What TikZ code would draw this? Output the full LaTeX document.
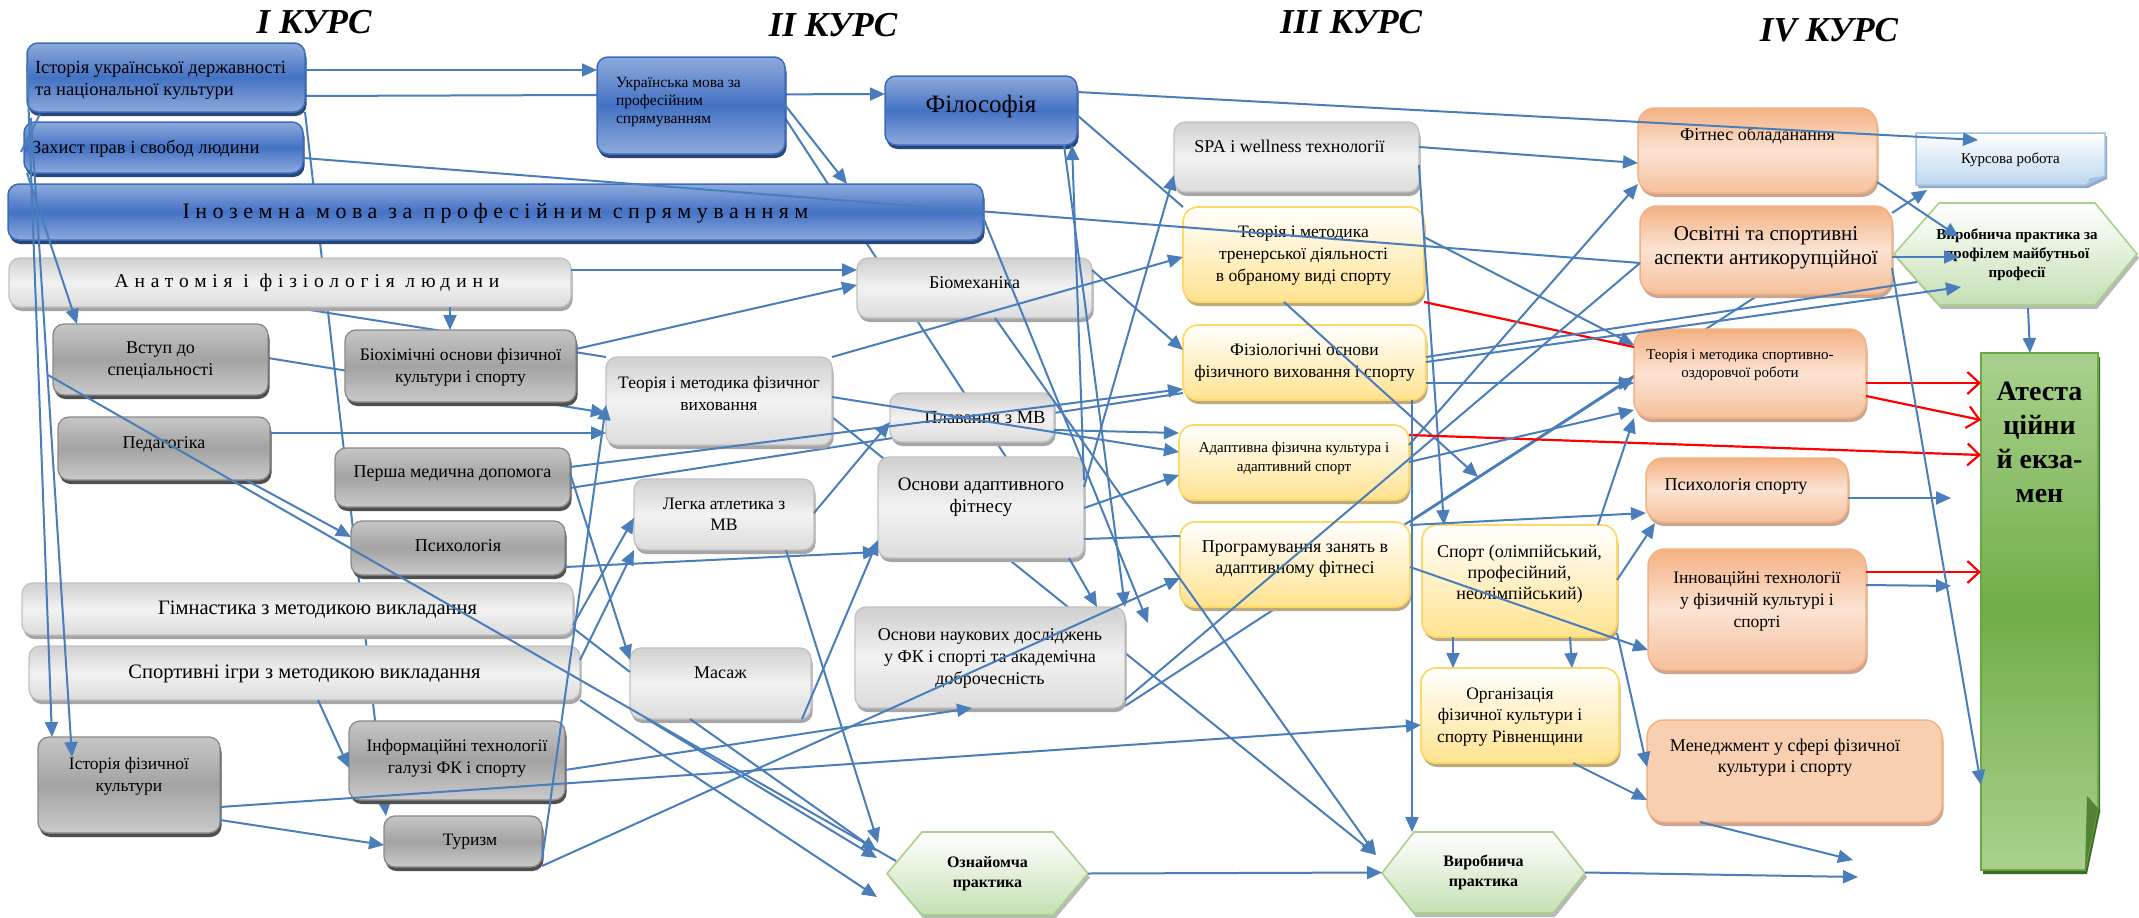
\documentclass[tikz,border=0pt]{standalone}
\usepackage{fontspec}
\setmainfont{Liberation Serif}
\newfontfamily\spacedfont[LetterSpace=25]{Liberation Serif}
\newfontfamily\widefont[LetterSpace=30]{Liberation Serif}
\usepackage{array}
\usetikzlibrary{arrows.meta,shadows}
\newcolumntype{L}[1]{>{\raggedright\arraybackslash}p{#1}}
\newcommand\fsz[2]{\fontsize{#1}{#2}\selectfont}
\newcommand\boxtext[3][c]{\raisebox{\dimexpr #2-0.3em\relax}[0pt][0pt]{\begin{tabular}{@{}#1@{}}#3\end{tabular}}}
\definecolor{blueL}{HTML}{8EAADB}\definecolor{blueM}{HTML}{4472C4}\definecolor{blueB}{HTML}{3A6BC0}\definecolor{blueS}{HTML}{2A4677}
\definecolor{dgL}{HTML}{C6C6C6}\definecolor{dgM}{HTML}{A3A3A3}\definecolor{dgL2}{HTML}{CACACA}\definecolor{dgB}{HTML}{8A8A8A}\definecolor{dgS}{HTML}{4F4F4F}
\definecolor{lgL}{HTML}{D0D0D0}\definecolor{lgM}{HTML}{F2F2F2}\definecolor{lgL2}{HTML}{DCDCDC}\definecolor{lgB}{HTML}{C2C2C2}\definecolor{lgS}{HTML}{A6A6A6}
\definecolor{yF}{HTML}{FFE38F}\definecolor{yB}{HTML}{FFD966}\definecolor{yS}{HTML}{BCAA82}
\definecolor{oD}{HTML}{F4B183}\definecolor{oL}{HTML}{FBE3D3}\definecolor{oD2}{HTML}{F6C09C}\definecolor{oS}{HTML}{C9A592}
\definecolor{mF}{HTML}{F8CFB0}
\definecolor{kB}{HTML}{9DC3E6}\definecolor{kF}{HTML}{BDD7EE}\definecolor{kS}{HTML}{95A9C0}
\definecolor{hB}{HTML}{A9D18E}\definecolor{hF}{HTML}{C5E0B4}
\definecolor{gL}{HTML}{A9D18E}\definecolor{gM}{HTML}{70AD47}\definecolor{gB}{HTML}{6AA843}\definecolor{gS}{HTML}{3D6B26}\definecolor{gFold}{HTML}{548235}
\definecolor{lnc}{HTML}{4A7EBB}
\pgfdeclarelayer{bg}
\pgfsetlayers{bg,main}
\tikzset{
 nb/.style={rounded corners=11pt, inner sep=0pt, outer sep=0pt, text=black},
 bluebx/.style={nb, draw=blueB, line width=1.5pt, top color=blueL, bottom color=blueL, middle color=blueM, drop shadow={shadow xshift=1.5pt, shadow yshift=-4pt, fill=blueS, opacity=1}},
 dgraybx/.style={nb, draw=dgB, line width=1.3pt, top color=dgL, bottom color=dgL2, middle color=dgM, drop shadow={shadow xshift=1.5pt, shadow yshift=-4pt, fill=dgS, opacity=1}},
 lgraybx/.style={nb, draw=lgB, line width=1.3pt, top color=lgL, bottom color=lgL2, middle color=lgM, drop shadow={shadow xshift=1.5pt, shadow yshift=-4pt, fill=lgS, opacity=1}},
 yelbx/.style={nb, rounded corners=15pt, draw=yB, line width=1.8pt, top color=white, bottom color=yF, drop shadow={shadow xshift=1.5pt, shadow yshift=-4pt, fill=yS, opacity=1}},
 orabx/.style={nb, rounded corners=17pt, draw=oD, line width=1.5pt, top color=oD, bottom color=oD2, middle color=oL, drop shadow={shadow xshift=1.5pt, shadow yshift=-4pt, fill=oS, opacity=1}},
 menbx/.style={nb, rounded corners=17pt, draw=oD, line width=1.5pt, fill=mF, drop shadow={shadow xshift=1.5pt, shadow yshift=-4pt, fill=oS, opacity=1}},
 hexst/.style={draw=hB, line width=1.6pt, top color=white, bottom color=hF, drop shadow={shadow xshift=2pt, shadow yshift=-4pt, fill=gray!55, opacity=1}},
 kursst/.style={draw=kB, line width=1.5pt, top color=white, bottom color=kF, drop shadow={shadow xshift=2pt, shadow yshift=-3pt, fill=kS, opacity=1}},
 atestst/.style={draw=gB, line width=1.6pt, top color=gL, bottom color=gL, middle color=gM, drop shadow={shadow xshift=2pt, shadow yshift=-4pt, fill=gS, opacity=1}},
 txtonly/.style={inner sep=0pt, outer sep=0pt, text=black},
 ttl/.style={font=\fsz{35}{40}\bfseries\itshape},
 cn/.style={draw=lnc, line width=2pt},
 arr/.style={cn, -{Triangle[length=15pt,width=13pt]}},
 rln/.style={draw=red, line width=2.2pt},
 rar/.style={rln, -{Straight Barb[length=12pt,width=22pt]}}
}
\begin{document}
\begin{tikzpicture}[x=1pt,y=-1pt]
\useasboundingbox (0,0) rectangle (2139,918);
\begin{pgfonlayer}{bg}
\fill[white] (0,0) rectangle (2139,918);
\end{pgfonlayer}

% titles
\node[ttl] (t1) at (314,22) {I КУРС};
\node[ttl] (t2) at (833,25) {II КУРС};
\node[ttl] (t3) at (1351,22) {III КУРС};
\node[ttl] (t4) at (1829,30) {IV КУРС};

% column I
\node[bluebx, minimum width=278, minimum height=69, font=\fsz{18.5}{22}] (ist) at (166,77.5) {\boxtext[L{262pt}]{-1.5pt}{Історія української державності\\та національної культури}};
\node[bluebx, minimum width=279, minimum height=51, font=\fsz{18.5}{22}] (zah) at (163.5,147.5) {\boxtext[L{263pt}]{0pt}{Захист прав і свобод людини}};
\node[bluebx, minimum width=975, minimum height=56, font=\spacedfont\fsz{22}{26}] (ino) at (495.5,212) {\boxtext{0pt}{Іноземна мова за професійним спрямуванням}};
\node[lgraybx, minimum width=562, minimum height=49, font=\widefont\fsz{19.5}{23}] (anat) at (290,282.5) {\hspace*{34pt}\boxtext{0pt}{Анатомія і фізіологія людини}};
\node[dgraybx, minimum width=215, minimum height=71, font=\fsz{18}{22}] (vstup) at (160.5,359.5) {\boxtext{0pt}{Вступ до\\спеціальності}};
\node[dgraybx, minimum width=231, minimum height=72, font=\fsz{17.5}{22}] (biokh) at (460.5,366) {\boxtext{0pt}{Біохімічні основи фізичної\\культури і спорту}};
\node[dgraybx, minimum width=212, minimum height=63, font=\fsz{18}{22}] (ped) at (164,448.5) {\boxtext{5pt}{Педагогіка}};
\node[dgraybx, minimum width=235, minimum height=59, font=\fsz{18}{22}] (persha) at (452.5,477.5) {\boxtext{5pt}{Перша медична допомога}};
\node[dgraybx, minimum width=214, minimum height=54, font=\fsz{18}{22}] (psyh) at (458,548) {\boxtext{2pt}{Психологія}};
\node[lgraybx, minimum width=551, minimum height=52, font=\fsz{20.5}{24}] (gimn) at (297.5,609) {\hspace*{40pt}\boxtext{0pt}{Гімнастика з методикою викладання}};
\node[lgraybx, minimum width=551, minimum height=54, font=\fsz{20.5}{24}] (sportig) at (304.5,673) {\boxtext{0pt}{Спортивні ігри з методикою викладання}};
\node[dgraybx, minimum width=182, minimum height=96, font=\fsz{17.5}{22}] (istfk) at (129,785) {\boxtext{10pt}{Історія фізичної\\культури}};
\node[dgraybx, minimum width=216, minimum height=79, font=\fsz{17.5}{22}] (inform) at (457,760.5) {\boxtext{3pt}{Інформаційні технології\\галузі ФК і спорту}};
\node[dgraybx, minimum width=158, minimum height=51, font=\fsz{17.5}{22}] (tur) at (463,841.5) {\hspace*{14pt}\boxtext{1pt}{Туризм}};

% column II
\node[bluebx, minimum width=188, minimum height=97, font=\fsz{15.5}{18}] (ukr) at (691,105.5) {\boxtext[L{150pt}]{5pt}{Українська мова за\\професійним\\спрямуванням}};
\node[bluebx, minimum width=192, minimum height=69, font=\fsz{25}{30}] (fil) at (981,110.5) {\boxtext{5pt}{Філософія}};
\node[lgraybx, minimum width=235, minimum height=60, font=\fsz{18}{22}] (biomekh) at (974.5,288) {\boxtext{5pt}{Біомеханіка}};
\node[lgraybx, minimum width=226, minimum height=88, font=\fsz{17.5}{22}] (tmfv) at (719,401) {\boxtext{7pt}{Теорія і методика фізичног\\виховання}};
\node[lgraybx, minimum width=164, minimum height=49, font=\fsz{18.5}{22}] (plav) at (972,417.5) {\hspace*{26pt}\boxtext{0pt}{Плавання з МВ}};
\node[lgraybx, minimum width=206, minimum height=101, font=\fsz{19}{22}] (osnaf) at (981,507.5) {\boxtext{12pt}{Основи адаптивного\\фітнесу}};
\node[lgraybx, minimum width=180, minimum height=71, font=\fsz{17.5}{21}] (legka) at (724,514.5) {\boxtext{0pt}{Легка атлетика з\\МВ}};
\node[lgraybx, minimum width=181, minimum height=71, font=\fsz{18}{22}] (masazh) at (720.5,683.5) {\boxtext{10pt}{Масаж}};
\node[lgraybx, minimum width=270, minimum height=101, font=\fsz{18}{22}] (nauk) at (990,657.5) {\boxtext{0pt}{Основи наукових досліджень\\у ФК і спорті та академічна\\доброчесність}};
\path[hexst] (887,873.5) -- (922,832) -- (1053,832) -- (1088,873.5) -- (1053,915) -- (922,915) -- cycle;
\node[txtonly, minimum width=201, minimum height=83, font=\fsz{16}{20}\bfseries] (oznay) at (987.5,873.5) {\boxtext{0pt}{Ознайомча\\практика}};

% column III
\node[lgraybx, minimum width=245, minimum height=70, font=\fsz{18}{21}] (spa) at (1296.5,157) {\boxtext{10pt}{SPA і wellness технології}\hspace*{14pt}};
\node[yelbx, minimum width=241, minimum height=95, font=\fsz{17.5}{22}] (trener) at (1303.5,254.5) {\boxtext{0pt}{Теорія і методика\\тренерської діяльності\\в обраному виді спорту}};
\node[yelbx, minimum width=243, minimum height=75, font=\fsz{17.5}{22}] (fiziol) at (1304.5,362.5) {\boxtext{1pt}{Фізіологічні основи\\фізичного виховання і спорту}};
\node[yelbx, minimum width=230, minimum height=75, font=\fsz{15}{19}] (adapt) at (1294,462.5) {\boxtext{5pt}{Адаптивна фізична культура і\\адаптивний спорт}};
\node[yelbx, minimum width=230, minimum height=85, font=\fsz{18}{21}] (prog) at (1295,564.5) {\boxtext{7pt}{Програмування занять в\\адаптивному фітнесі}};
\node[yelbx, minimum width=195, minimum height=112, font=\fsz{18}{21}] (sportol) at (1519.5,581) {\boxtext{8pt}{Спорт (олімпійський,\\професійний,\\неолімпійський)}};
\node[yelbx, minimum width=198, minimum height=95, font=\fsz{17.5}{21.5}] (org) at (1520,715.5) {\boxtext{0pt}{Організація\\фізичної культури і\\спорту Рівненщини}\hspace*{20pt}};
\path[hexst] (1382,873) -- (1414,832) -- (1553,832) -- (1585,873) -- (1553,913) -- (1414,913) -- cycle;
\node[txtonly, minimum width=203, minimum height=81, font=\fsz{16}{20}\bfseries] (vyrob) at (1483.5,872.5) {\boxtext{0pt}{Виробнича\\практика}};

% column IV
\node[orabx, minimum width=239, minimum height=85, font=\fsz{18}{22}] (fitnes) at (1757.5,150.5) {\boxtext{15pt}{Фітнес обладанання}};
\path[kursst] (1916,133) -- (2105,133) -- (2105,176) -- (2086,185) -- (1916,185) -- cycle;
\fill[kB] (2105,176) -- (2090,178) -- (2086,185) -- cycle;
\node[txtonly, minimum width=189, minimum height=52, font=\fsz{15}{18}] (kurs) at (2010.5,159) {\boxtext{0pt}{Курсова робота}};
\node[orabx, minimum width=252, minimum height=88, font=\fsz{21}{24}] (osvit) at (1766,250) {\boxtext{3pt}{Освітні та спортивні\\аспекти антикорупційної}};
\path[hexst] (1894,254) -- (1939,203) -- (2095,203) -- (2137,254) -- (2095,305) -- (1939,305) -- cycle;
\node[txtonly, minimum width=243, minimum height=102, font=\fsz{15}{19}\bfseries] (vpprof) at (2017,254) {\boxtext{0pt}{Виробнича практика за\\профілем майбутньої\\професії}};
\node[orabx, minimum width=232, minimum height=89, font=\fsz{15}{18}] (tmsor) at (1750,373.5) {\boxtext{10pt}{Теорія і методика спортивно-\\оздоровчої роботи}\hspace*{20pt}};
\node[orabx, minimum width=202, minimum height=64, font=\fsz{18}{22}] (psysp) at (1747,490) {\boxtext{5pt}{Психологія спорту}\hspace*{22pt}};
\node[orabx, minimum width=218, minimum height=121, font=\fsz{17.5}{22}] (innov) at (1757,609.5) {\boxtext{9pt}{Інноваційні технології\\у фізичній культурі і\\спорті}};
\node[menbx, minimum width=295, minimum height=102, font=\fsz{18}{21}] (menedzh) at (1794.5,771) {\boxtext{14pt}{Менеджмент у сфері фізичної\\культури і спорту}\hspace*{19pt}};
\path[atestst] (1981,353) -- (2098,353) -- (2098,808) -- (2085,870) -- (1981,870) -- cycle;
\fill[gFold] (2098,808) -- (2087,796) -- (2085,870) -- cycle;
\node[txtonly, minimum width=117, minimum height=517, font=\fsz{28}{34}\bfseries] (atest) at (2039.5,611.5) {\boxtext{169pt}{Атеста\\ційни\\й екза-\\мен}};

% connectors passing behind boxes
\begin{pgfonlayer}{bg}
\draw[arr] (ist.east |- 0,96) -- (fil.west |- 0,94);
\draw[arr] (ist.south east) -- (tur.north -| 386,0);
\draw[cn] (anat.south -| 291,0) -- (tmfv.north west);
\draw[arr] (vstup.east |- 0,358) -- (tmfv.west |- 0,413);
\draw[cn] (persha.east |- 0,488) -- (fiziol.west |- 0,393);
\draw[arr] (tmfv.east |- 0,417) -- (1376,855);
\draw[cn] (ukr.east |- 0,118) -- (osnaf.north -| 1006,0);
\draw[cn] (nauk.east |- 0,706) -- (osvit.south -| 1760,0);
\end{pgfonlayer}

% connectors on top
\coordinate (l4s) at (48,375);
\coordinate (l2s) at (31,118);
\draw[arr] (ist.east |- 0,70) -- (ukr.west |- 0,70);
\draw[cn] (zah.east |- 0,158) -- (osvit.west |- 0,263);
\draw[arr] (ist.west |- 0,65) -- (istfk.north -| 52,0);
\draw[arr] (l2s) -- (72,757);
\draw[cn] (40,114) -- (21,152);
\draw[arr] ([xshift=3pt]zah.south west) -- (vstup.north -| 77,0);
\draw[cn] (l4s) -- (896,861);
\draw[arr] (anat.south -| 450,0) -- (biokh.north -| 450,0);
\draw[arr] (anat.east |- 0,270) -- (biomekh.west |- 0,270);
\draw[arr] (biokh.east |- 0,349) -- (biomekh.west |- 0,285);
\draw[arr] (ped.east |- 0,433) -- (tmfv.west |- 0,433);
\draw[arr] (ped.south -| 246,0) -- (psyh.west |- 0,537);
\draw[arr] (persha.east |- 0,467) -- (fiziol.west |- 0,389);
\draw[arr] (legka.east |- 0,513) -- (plav.west |- 0,422);
\draw[arr] (legka.south -| 786,0) -- (878,843);
\draw[arr] (gimn.east |- 0,625) -- (legka.west |- 0,518);
\draw[arr] (sportig.east |- 0,660) -- (legka.south west);
\draw[arr] (tur.east |- 0,860) -- (tmfv.west |- 0,405);
\draw[arr] (persha.east |- 0,473) -- (masazh.west |- 0,660);
\draw[cn] (gimn.east |- 0,628) -- (masazh.west |- 0,672);
\draw[arr] (sportig.south east) -- (877,897);
\draw[arr] (masazh.south -| 647,0) -- (877,858);
\draw[arr] (masazh.south -| 690,0) -- (877,851);
\draw[arr] ([xshift=-9pt]masazh.south east) -- (osnaf.west |- 0,540);
\draw[arr] (psyh.east |- 0,567) -- (osnaf.west |- 0,552);
\draw[arr] (tmfv.north east) -- (trener.west |- 0,257);
\draw[arr] (tmfv.east |- 0,397) -- (adapt.west |- 0,452);
\draw[arr] (biomekh.east |- 0,270) -- (fiziol.west |- 0,350);
\draw[arr] (osnaf.east |- 0,487) -- (spa.west |- 0,175);
\draw[arr] (osnaf.east |- 0,480) -- (fil.south -| 1072,0);
\draw[arr] (fil.south -| 1064,0) -- (nauk.north east);
\draw[arr] (ino.east |- 0,217) -- (1148,623);
\draw[arr] (ukr.east |- 0,105) -- (ino.north -| 847,0);
\draw[arr] (osnaf.east |- 0,508) -- (adapt.west |- 0,475);
\draw[cn] (osnaf.east |- 0,539) -- (prog.west |- 0,536);
\draw[arr] (osnaf.south -| 1069,0) -- (nauk.north -| 1097,0);
\draw[arr] (biomekh.south -| 995,0) -- (1376,855);
\draw[arr] (fil.east |- 0,92) -- (1978,140);
\draw[cn] (fil.east |- 0,115) -- (trener.north west);
\draw[arr] (spa.east |- 0,147) -- (fitnes.west |- 0,163);
\draw[arr] (spa.east |- 0,165) -- (sportol.north -| 1444,0);
\draw[arr] (trener.east |- 0,237) -- (tmsor.west |- 0,345);
\draw[rln] (trener.south east) -- (tmsor.west |- 0,347);
\draw[arr] (trener.south -| 1284,0) -- (1478,477);
\draw[arr] (adapt.east |- 0,445) -- (fitnes.west |- 0,184);
\draw[cn] (nauk.east |- 0,700) -- (osvit.west |- 0,263);
\draw[arr] (prog.north east) -- (tmsor.west |- 0,377);
\draw[arr] (fiziol.east |- 0,383) -- (tmsor.west |- 0,383);
\draw[cn] (fiziol.east |- 0,357) -- (1917,282);
\draw[arr] (fiziol.east |- 0,362) -- (1961,287);
\draw[rar] (adapt.east |- 0,435) -- (atest.west |- 0,455);
\draw[rar] (tmsor.east |- 0,383) -- (atest.west |- 0,383);
\draw[rar] (tmsor.east |- 0,396) -- (atest.west |- 0,420);
\draw[rar] (innov.east |- 0,572) -- (atest.west |- 0,572);
\draw[arr] (innov.east |- 0,585) -- (1951,586);
\draw[arr] (psysp.east |- 0,498) -- (1951,498);
\draw[arr] (2028,308) -- (atest.north -| 2030,0);
\draw[arr] (prog.east |- 0,525) -- (psysp.west |- 0,513);
\draw[arr] (sportol.east |- 0,580) -- (1655,523);
\draw[arr] (sportol.north -| 1598,0) -- (tmsor.south west);
\draw[arr] (adapt.east |- 0,462) -- (tmsor.west |- 0,410);
\draw[arr] (sportol.south -| 1453,0) -- (org.north -| 1453,0);
\draw[arr] (sportol.south -| 1570,0) -- (org.north -| 1572,0);
\draw[arr] (sportol.east |- 0,633) -- (menedzh.west |- 0,767);
\draw[arr] (prog.east |- 0,567) -- (innov.west |- 0,650);
\draw[arr] (org.south -| 1573,0) -- (menedzh.west |- 0,800);
\draw[arr] (menedzh.south -| 1700,0) -- (1853,860);
\draw[arr] (vyrob.east) -- (1858,877);
\draw[arr] (oznay.east) -- (vyrob.west);
\draw[arr] (fiziol.south -| 1412,0) -- (1412,832);
\draw[arr] (fitnes.east |- 0,182) -- (1959,237);
\draw[arr] (osvit.east |- 0,257) -- (1959,257);
\draw[arr] (osvit.east |- 0,213) -- (1927,190);
\draw[arr] (osvit.east |- 0,268) -- (atest.west |- 0,785);
\draw[arr] (istfk.east |- 0,807) -- (org.west |- 0,725);
\draw[arr] (istfk.east |- 0,820) -- (tur.west |- 0,845);
\draw[arr] (inform.east |- 0,770) -- (nauk.south -| 972,0);
\draw[arr] (sportig.south -| 318,0) -- (inform.west |- 0,768);
\draw[arr] (tur.east |- 0,866) -- (prog.west |- 0,578);
\draw[arr] (plav.east |- 0,430) -- (adapt.west |- 0,433);
\end{tikzpicture}
\end{document}
